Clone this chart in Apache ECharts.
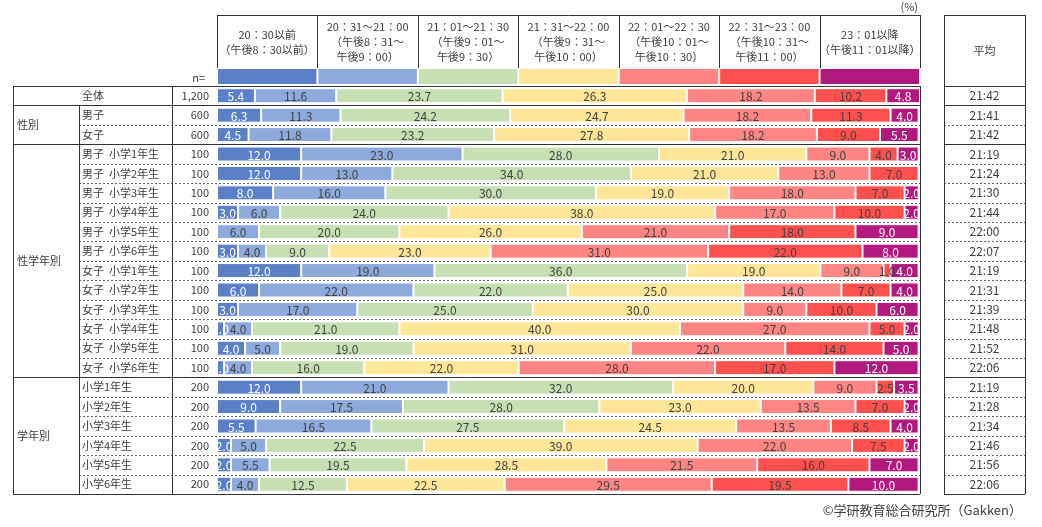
<!DOCTYPE html>
<html>
<head>
<meta charset="utf-8">
<script src="https://cdn.jsdelivr.net/npm/echarts@6/dist/echarts.min.js"></script>
<style>
html, body { margin: 0; padding: 0; background: #fff; }
#chart { width: 1042px; height: 527px; }
</style>
</head>
<body>
<div id="chart"></div>
<script>
// 就寝時刻の分布 (%)
let timeBands = [
    '20：30以前\n（午後8：30以前）',
    '20：31～21：00\n（午後8：31～\n午後9：00）',
    '21：01～21：30\n（午後9：01～\n午後9：30）',
    '21：31～22：00\n（午後9：31～\n午後10：00）',
    '22：01～22：30\n（午後10：01～\n午後10：30）',
    '22：31～23：00\n（午後10：31～\n午後11：00）',
    '23：01以降\n（午後11：01以降）'
];
let bandColors = ['#5b80c8', '#8eaadc', '#c6e0b4', '#ffe699', '#ff8585', '#ff5050', '#b2197e'];
let swatchFill = [1, 1, 1, 1, 1, 1, 1];

let rowLabels = [
    '全体', '男子', '女子',
    '男子  小学1年生', '男子  小学2年生', '男子  小学3年生', '男子  小学4年生', '男子  小学5年生', '男子  小学6年生',
    '女子  小学1年生', '女子  小学2年生', '女子  小学3年生', '女子  小学4年生', '女子  小学5年生', '女子  小学6年生',
    '小学1年生', '小学2年生', '小学3年生', '小学4年生', '小学5年生', '小学6年生'
];
let rowN = ['1,200', '600', '600',
    '100', '100', '100', '100', '100', '100',
    '100', '100', '100', '100', '100', '100',
    '200', '200', '200', '200', '200', '200'];
let avgTimes = ['21:42', '21:41', '21:42',
    '21:19', '21:24', '21:30', '21:44', '22:00', '22:07',
    '21:19', '21:31', '21:39', '21:48', '21:52', '22:06',
    '21:19', '21:28', '21:34', '21:46', '21:56', '22:06'];

let s1 = [5.4, 6.3, 4.5, 12, 12, 8, 3, 0, 3, 12, 6, 3, 1, 4, 1, 12, 9, 5.5, 2, 2, 2];
let s2 = [11.6, 11.3, 11.8, 23, 13, 16, 6, 6, 4, 19, 22, 17, 4, 5, 4, 21, 17.5, 16.5, 5, 5.5, 4];
let s3 = [23.7, 24.2, 23.2, 28, 34, 30, 24, 20, 9, 36, 22, 25, 21, 19, 16, 32, 28, 27.5, 22.5, 19.5, 12.5];
let s4 = [26.3, 24.7, 27.8, 21, 21, 19, 38, 26, 23, 19, 25, 30, 40, 31, 22, 20, 23, 24.5, 39, 28.5, 22.5];
let s5 = [18.2, 18.2, 18.2, 9, 13, 18, 17, 21, 31, 9, 14, 9, 27, 22, 28, 9, 13.5, 13.5, 22, 21.5, 29.5];
let s6 = [10.2, 11.3, 9.0, 4, 7, 7, 10, 18, 22, 1, 7, 10, 5, 14, 17, 2.5, 7, 8.5, 7.5, 16, 19.5];
let s7 = [4.8, 4.0, 5.5, 3, 0, 2, 2, 9, 8, 4, 4, 6, 2, 5, 12, 3.5, 2, 4, 2, 7, 10];
let seriesData = [s1, s2, s3, s4, s5, s6, s7];

let groupNames = ['性別', '性学年別', '学年別'];
let groupRows = [[1, 2], [3, 14], [15, 20]];   // 行番号(0始まり)
let solidAfter = [0, 2, 14];                   // 太線で区切る行

let FONT = '"Noto Sans CJK JP", "Noto Sans", sans-serif';
let TXT = '#404040';
let LINE = '#333';
let DASH = '#666';

// table layout
let TBL_LEFT = 13, COL_GROUP = 79, COL_N = 172;
let BAR_LEFT = 217, BAR_RIGHT = 920, BAR_TOP = 86, BAR_BOTTOM = 494;
let HEAD_TOP = 15, SWATCH_TOP = 69, SWATCH_H = 15;
let AVG_LEFT = 944, AVG_RIGHT = 1025;

let dom = document.getElementById('chart');
let myChart = echarts.init(dom);

let barSeries = seriesData.map(function (d, i) {
    return {
        type: 'bar',
        stack: 'total',
        xAxisIndex: 0,
        yAxisIndex: 0,
        data: d,
        barWidth: 15,
        itemStyle: { color: bandColors[i], borderColor: '#fff', borderWidth: 1 },
        label: { show: false },
        silent: true,
        z: 3
    };
});

// 数値ラベル (棒からはみ出しても切れないように別シリーズで描く)
let labelRows = [];
for (let r = 0; r < rowLabels.length; r++) {
    let acc = 0;
    for (let i = 0; i < seriesData.length; i++) {
        let v = seriesData[i][r];
        labelRows.push([acc, acc + v, r, v, i]);
        acc += v;
    }
}
let labelSeries = {
    type: 'custom',
    xAxisIndex: 0,
    yAxisIndex: 0,
    data: labelRows,
    encode: { x: [0, 1], y: 2 },
    silent: true,
    z: 10,
    renderItem: function (params, api) {
        let v = api.value(3);
        if (!(v > 0)) return null;
        let band = api.value(4);
        let p = api.coord([(api.value(0) + api.value(1)) / 2, api.value(2)]);
        return {
            type: 'text',
            x: p[0],
            y: p[1] + 1,
            style: {
                text: v.toFixed(1),
                fill: (band == 0 || band == 6) ? '#fff' : TXT,
                font: '12px ' + FONT,
                textAlign: 'center',
                textVerticalAlign: 'middle'
            }
        };
    }
};

let swatchSeries = {
    type: 'bar',
    xAxisIndex: 1,
    yAxisIndex: 3,
    barCategoryGap: 2,
    data: swatchFill.map(function (v, i) { return { value: v, itemStyle: { color: bandColors[i] } }; }),
    silent: true
};

let option = {
    animation: false,
    backgroundColor: '#fff',
    textStyle: { fontFamily: FONT },
    grid: [
        { left: BAR_LEFT, top: BAR_TOP, width: BAR_RIGHT - BAR_LEFT, height: BAR_BOTTOM - BAR_TOP },
        { left: BAR_LEFT, top: SWATCH_TOP, width: BAR_RIGHT - BAR_LEFT, height: SWATCH_H }
    ],
    xAxis: [
        { type: 'value', gridIndex: 0, min: 0, max: 'dataMax', show: false },
        {
            type: 'category', gridIndex: 1, position: 'top', data: timeBands,
            axisLine: { show: false }, axisTick: { show: false },
            axisLabel: {
                interval: 0, margin: 27, verticalAlign: 'middle', lineHeight: 15,
                fontSize: 11, color: TXT, fontFamily: FONT
            }
        }
    ],
    yAxis: [
        {
            type: 'category', gridIndex: 0, inverse: true, position: 'left', data: rowLabels,
            axisLine: { show: false }, axisTick: { show: false },
            axisLabel: { margin: BAR_LEFT - 82, align: 'left', fontSize: 11, color: TXT, fontFamily: FONT }
        },
        {
            type: 'category', gridIndex: 0, inverse: true, position: 'left', data: rowN,
            axisLine: { show: false }, axisTick: { show: false },
            axisLabel: { margin: 8, fontSize: 11, color: TXT, fontFamily: FONT }
        },
        {
            type: 'category', gridIndex: 0, inverse: true, position: 'right', data: avgTimes,
            axisLine: { show: false }, axisTick: { show: false },
            axisLabel: { margin: (AVG_LEFT + AVG_RIGHT) / 2 - BAR_RIGHT, align: 'center', fontSize: 12, color: TXT, fontFamily: FONT }
        },
        { type: 'value', gridIndex: 1, min: 0, max: 1, show: false }
    ],
    series: barSeries.concat([labelSeries, swatchSeries])
};

myChart.setOption(option);

// 表の罫線と見出し
function hLine(x1, x2, y, dashed) {
    y = Math.round(y) + 0.5;
    return {
        type: 'line', silent: true, z: dashed ? 1 : 20,
        shape: { x1: x1, y1: y, x2: x2, y2: y },
        style: { stroke: dashed ? DASH : LINE, lineWidth: 1, lineDash: dashed ? [2, 2] : null }
    };
}
function vLine(x, y1, y2) {
    x = Math.round(x) + 0.5;
    return {
        type: 'line', silent: true, z: 20,
        shape: { x1: x, y1: y1, x2: x, y2: y2 },
        style: { stroke: LINE, lineWidth: 1 }
    };
}
function txt(x, y, s, align, size) {
    return {
        type: 'text', silent: true, z: 21, x: x, y: y,
        style: { text: s, fill: TXT, font: (size || 11) + 'px ' + FONT, textAlign: align || 'left', textVerticalAlign: 'middle' }
    };
}

function drawTable() {
    let c0 = myChart.convertToPixel({ yAxisIndex: 0 }, 0);
    let c1 = myChart.convertToPixel({ yAxisIndex: 0 }, 1);
    let band = c1 - c0;
    function edge(i) { return c0 - band / 2 + i * band; }
    let n = rowLabels.length;
    let top = edge(0), bottom = edge(n);

    let els = [];
    // header box
    els.push(hLine(BAR_LEFT, BAR_RIGHT, HEAD_TOP));
    let h0 = myChart.convertToPixel({ xAxisIndex: 1 }, 0);
    let h1 = myChart.convertToPixel({ xAxisIndex: 1 }, 1);
    let hb = h1 - h0;
    for (let k = 0; k <= timeBands.length; k++) {
        els.push(vLine(h0 - hb / 2 + k * hb, HEAD_TOP, SWATCH_TOP - 1));
    }
    els.push(txt(BAR_RIGHT - 2, 7, '(%)', 'right', 11));
    els.push(txt(205, SWATCH_TOP + SWATCH_H / 2 + 1, 'n=', 'right', 11));

    // row separators
    els.push(hLine(TBL_LEFT, BAR_RIGHT, top));
    els.push(hLine(TBL_LEFT, BAR_RIGHT, bottom));
    for (let i = 1; i < n; i++) {
        if (solidAfter.indexOf(i - 1) >= 0) {
            els.push(hLine(TBL_LEFT, BAR_RIGHT, edge(i)));
        } else {
            els.push(hLine(COL_GROUP, BAR_RIGHT, edge(i), true));
        }
    }
    els.push(vLine(TBL_LEFT, top, bottom));
    els.push(vLine(COL_GROUP, edge(1), bottom));
    els.push(vLine(COL_N, top, bottom));
    els.push(vLine(BAR_RIGHT, top, bottom));

    // group names
    for (let g = 0; g < groupNames.length; g++) {
        let yc = (edge(groupRows[g][0]) + edge(groupRows[g][1] + 1)) / 2;
        els.push(txt(TBL_LEFT + 4, yc, groupNames[g], 'left', 11));
    }

    // average column
    els.push(hLine(AVG_LEFT, AVG_RIGHT, HEAD_TOP));
    els.push(hLine(AVG_LEFT, AVG_RIGHT, top));
    els.push(hLine(AVG_LEFT, AVG_RIGHT, bottom));
    for (let i = 1; i < n; i++) {
        els.push(hLine(AVG_LEFT, AVG_RIGHT, edge(i), solidAfter.indexOf(i - 1) < 0));
    }
    els.push(vLine(AVG_LEFT, HEAD_TOP, bottom));
    els.push(vLine(AVG_RIGHT, HEAD_TOP, bottom));
    els.push(txt((AVG_LEFT + AVG_RIGHT) / 2, (HEAD_TOP + top) / 2, '平均', 'center', 11));

    els.push(txt(1022, 510, '©学研教育総合研究所（Gakken）', 'right', 13));

    myChart.setOption({ graphic: { elements: els } });
}
drawTable();
</script>
</body>
</html>
